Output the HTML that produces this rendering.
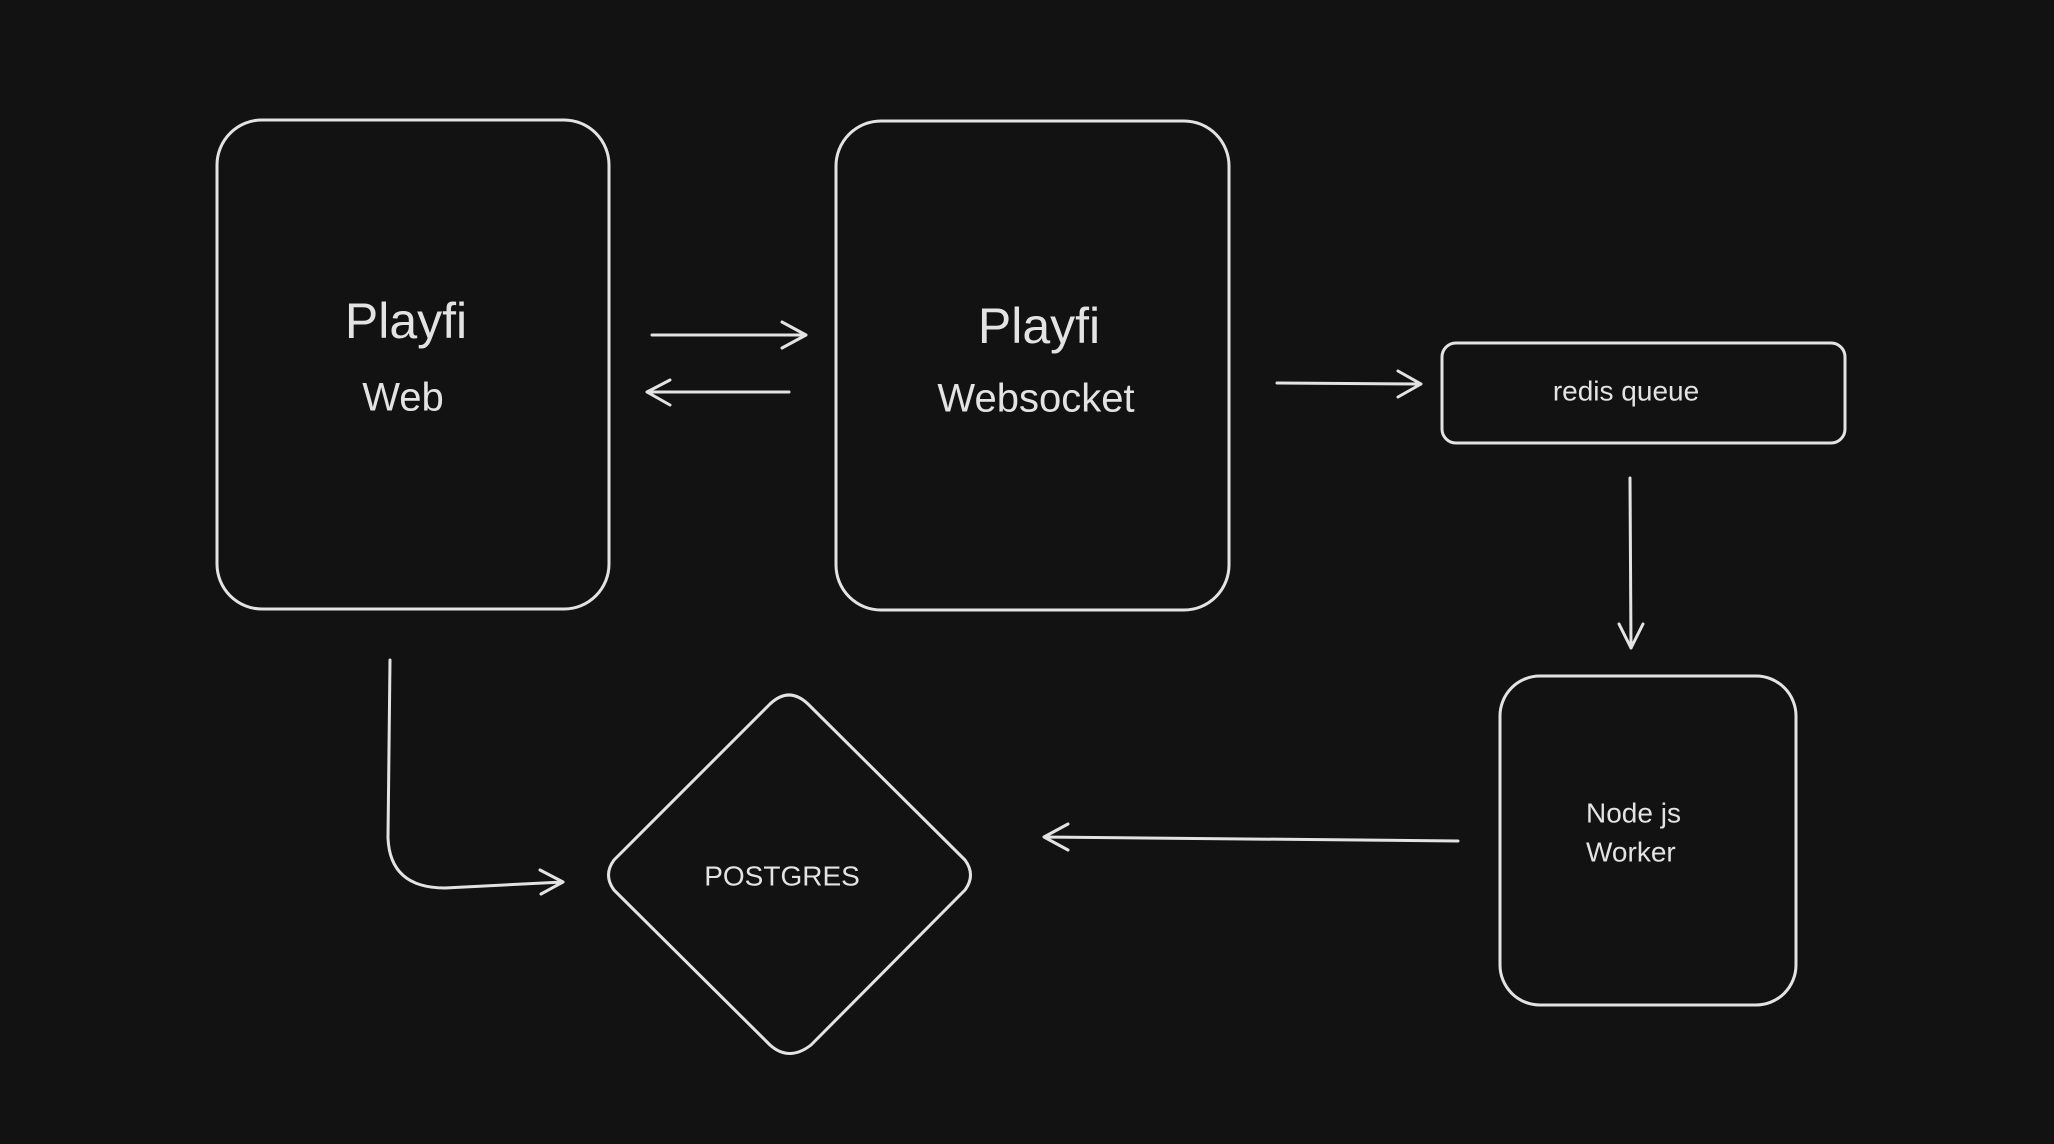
<!DOCTYPE html>
<html><head><meta charset="utf-8"><style>
html,body{margin:0;padding:0;background:#121212;}
svg{display:block}
text{font-family:"Liberation Sans",sans-serif;fill:#e3e3e3;text-anchor:middle;dominant-baseline:middle}
</style></head><body>
<svg width="2054" height="1144" viewBox="0 0 2054 1144" xmlns="http://www.w3.org/2000/svg">
<rect width="2054" height="1144" fill="#121212"/>
<g fill="none" stroke="#e3e3e3" stroke-width="3" stroke-linecap="round" stroke-linejoin="round">
<rect x="217" y="120" width="392" height="489" rx="45"/>
<rect x="836" y="121" width="393" height="489" rx="45"/>
<rect x="1442" y="343" width="403" height="100" rx="14"/>
<rect x="1500" y="676" width="296" height="329" rx="40"/>
<path d="M770 704 Q789 686 808 704 L965 860 Q976 875 965 890 L811 1045 Q789 1062 770 1045 L614 890 Q603 875 614 860 Z"/>
<path d="M652 335 L806 335 M782 322 L806 335 L782 348"/>
<path d="M789 392 L647 392 M670 380 L647 392 L670 405"/>
<path d="M1277 383 L1421 384 M1398 371 L1421 384 L1398 397"/>
<path d="M1630 478 L1631 648 M1619 624 L1631 648 L1643 624"/>
<path d="M1458 841 L1044 837 M1068 824 L1044 837 L1068 850"/>
<path d="M390 660 L388 838 Q390 888 445 888 L563 882 M540 870 L563 882 L541 894"/>
</g>
<text x="406" y="325" font-size="50">Playfi</text>
<text x="403" y="400" font-size="40">Web</text>
<text x="1039" y="330" font-size="50">Playfi</text>
<text x="1036" y="401" font-size="40">Websocket</text>
<text x="1626" y="393" font-size="28">redis queue</text>
<text x="1586" y="815" font-size="28" style="text-anchor:start">Node js</text>
<text x="1586" y="854" font-size="28" style="text-anchor:start">Worker</text>
<text x="782" y="878" font-size="28">POSTGRES</text>
</svg>
</body></html>
